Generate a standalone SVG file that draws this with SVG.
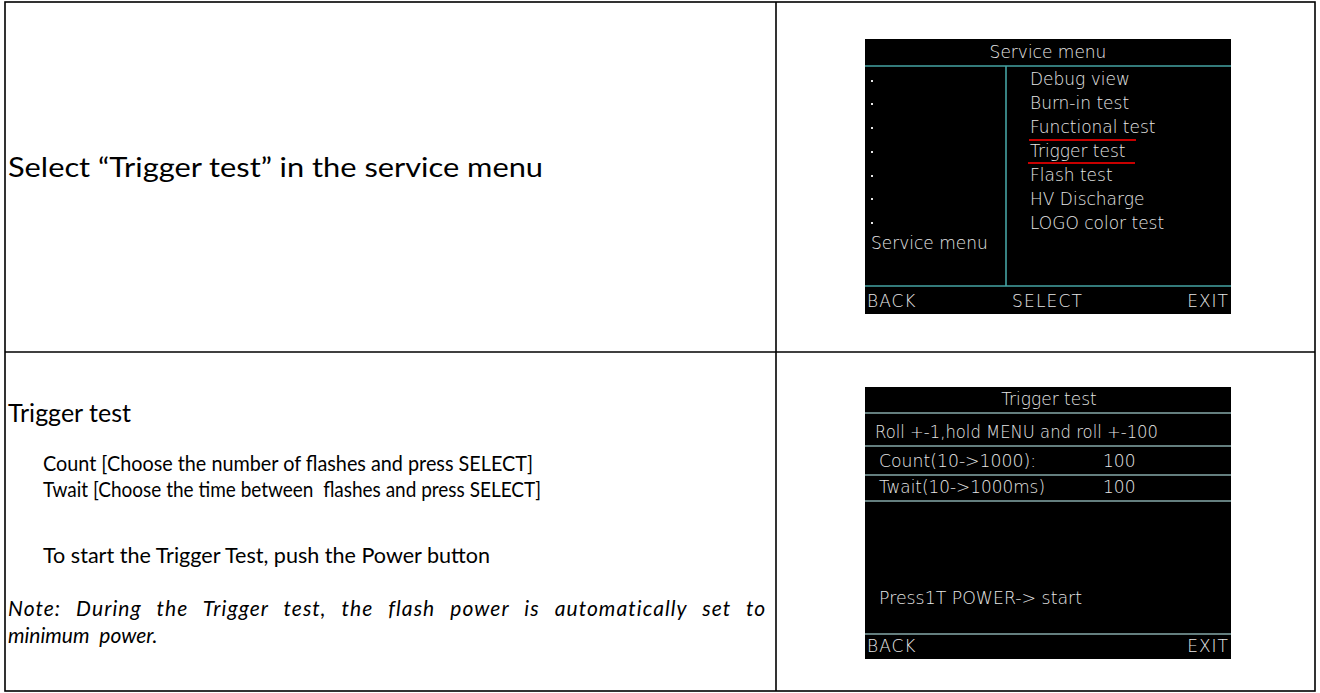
<svg xmlns="http://www.w3.org/2000/svg" width="1320" height="693" viewBox="0 0 1320 693">
<style>
.grid{fill:none;stroke:#000;stroke-width:1.6}
.doc{font-family:Lato,"Liberation Sans",sans-serif;fill:#000}
.big{font-size:27px}
.head{font-size:25px}
.body{font-size:21px}
.note{font-size:21px;font-style:italic}
.scr{fill:#000}
.lcd{font-family:"DejaVu Sans","Liberation Sans",sans-serif;font-weight:200;font-size:17px;fill:#e6e6e6}
.teal{stroke:#45a3a3;stroke-width:1.6}
.gray{stroke:#86a9a9;stroke-width:1.6}
.red{stroke:#c80000;stroke-width:2}
.dot{fill:#e6e6e6}
</style>
<g id="table">
<rect class="grid" x="5" y="2" width="1310" height="689"/>
<line class="grid" x1="776" y1="2" x2="776" y2="691"/>
<line class="grid" x1="5" y1="352" x2="1315" y2="352"/>
</g>
<g id="row1-text" class="doc">
<text class="big" x="8" y="177" textLength="535" lengthAdjust="spacingAndGlyphs">Select “Trigger test” in the service menu</text>
</g>
<g id="row2-text" class="doc">
<text class="head" x="8" y="422" textLength="123" lengthAdjust="spacingAndGlyphs">Trigger test</text>
<text class="body" x="43" y="471" textLength="490" lengthAdjust="spacingAndGlyphs">Count [Choose the number of flashes and press SELECT]</text>
<text class="body" x="43" y="497" textLength="498" lengthAdjust="spacingAndGlyphs" xml:space="preserve">Twait [Choose the time between  flashes and press SELECT]</text>
<text class="body" x="43" y="563" textLength="447" lengthAdjust="spacingAndGlyphs">To start the Trigger Test, push the Power button</text>
<text class="note" x="8" y="616" letter-spacing="0.8" word-spacing="9" textLength="758">Note: During the Trigger test, the flash power is automatically set to</text>
<text class="note" x="8" y="643" xml:space="preserve">minimum  power.</text>
</g>
<g id="screen-service-menu">
<rect class="scr" x="865" y="39" width="366" height="275"/>
<text class="lcd" x="1048" y="58" text-anchor="middle">Service menu</text>
<line class="teal" x1="865" y1="66" x2="1231" y2="66"/>
<line class="teal" x1="1006" y1="66" x2="1006" y2="286"/>
<line class="teal" x1="865" y1="286" x2="1231" y2="286"/>
<g class="dot">
<rect x="871" y="80" width="2" height="2"/>
<rect x="871" y="103" width="2" height="2"/>
<rect x="871" y="127" width="2" height="2"/>
<rect x="871" y="151" width="2" height="2"/>
<rect x="871" y="175" width="2" height="2"/>
<rect x="871" y="198" width="2" height="2"/>
<rect x="871" y="222" width="2" height="2"/>
</g>
<text class="lcd" x="1030" y="85">Debug view</text>
<text class="lcd" x="1030" y="109">Burn-in test</text>
<text class="lcd" x="1030" y="133">Functional test</text>
<text class="lcd" x="1030" y="157">Trigger test</text>
<text class="lcd" x="1030" y="181">Flash test</text>
<text class="lcd" x="1030" y="205">HV Discharge</text>
<text class="lcd" x="1030" y="229">LOGO color test</text>
<line class="red" x1="1029" y1="140" x2="1136" y2="140"/>
<line class="red" x1="1028" y1="163" x2="1135" y2="163"/>
<text class="lcd" x="871" y="249">Service menu</text>
<text class="lcd" x="867" y="307" letter-spacing="1">BACK</text>
<text class="lcd" x="1012" y="307" letter-spacing="1.2">SELECT</text>
<text class="lcd" x="1229" y="307" text-anchor="end" letter-spacing="1">EXIT</text>
</g>
<g id="screen-trigger-test">
<rect class="scr" x="865" y="387" width="366" height="272"/>
<text class="lcd" x="1049" y="405" text-anchor="middle">Trigger test</text>
<line class="gray" x1="865" y1="413" x2="1231" y2="413"/>
<text class="lcd" x="875" y="438" textLength="283" lengthAdjust="spacingAndGlyphs">Roll +-1,hold MENU and roll +-100</text>
<line class="gray" x1="865" y1="446" x2="1231" y2="446"/>
<text class="lcd" x="879" y="467" textLength="157" lengthAdjust="spacingAndGlyphs">Count(10-&gt;1000):</text>
<text class="lcd" x="1103" y="467">100</text>
<line class="gray" x1="865" y1="475" x2="1231" y2="475"/>
<text class="lcd" x="879" y="493" textLength="166" lengthAdjust="spacingAndGlyphs">Twait(10-&gt;1000ms)</text>
<text class="lcd" x="1103" y="493">100</text>
<line class="gray" x1="865" y1="501" x2="1231" y2="501"/>
<text class="lcd" x="879" y="604" textLength="203" lengthAdjust="spacingAndGlyphs">Press1T POWER-&gt; start</text>
<line class="gray" x1="865" y1="634" x2="1231" y2="634"/>
<text class="lcd" x="867" y="652" letter-spacing="1">BACK</text>
<text class="lcd" x="1229" y="652" text-anchor="end" letter-spacing="1">EXIT</text>
</g>
</svg>
